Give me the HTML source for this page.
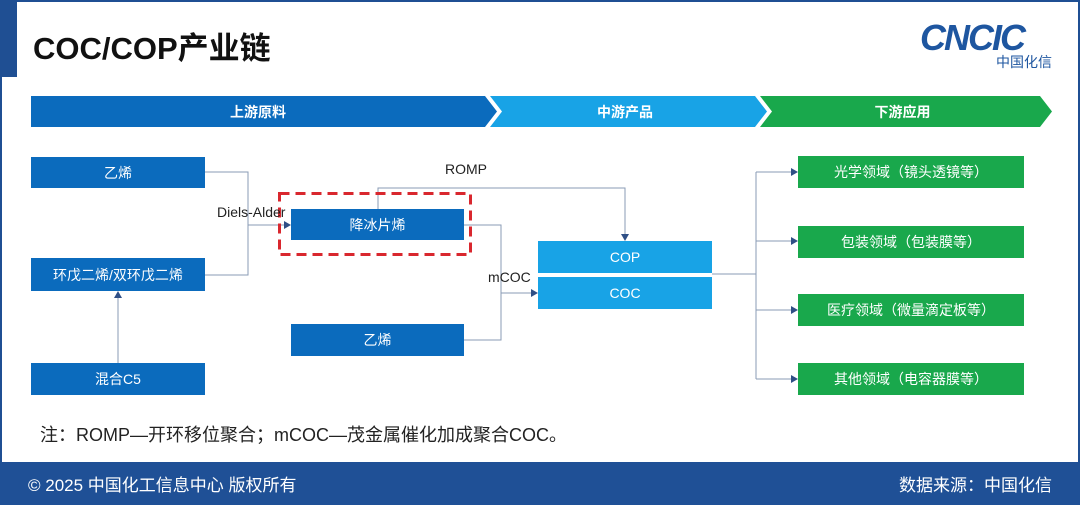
<!DOCTYPE html>
<html><head><meta charset="utf-8"><style>
body{margin:0;width:1080px;height:505px;overflow:hidden;background:#fff;font-family:"Liberation Sans","Noto Sans CJK SC",sans-serif;position:relative}
.a{position:absolute}
.b{position:absolute;color:#fff;font-size:14px;display:flex;align-items:center;justify-content:center}
.d{background:#0b6bbd}.l{background:#18a3e6}.g{background:#19a84c}
</style></head><body>
<div class="a" style="left:0;top:0;width:1080px;height:505px;box-sizing:border-box;border:2px solid #1f4f93;border-bottom:none"></div>
<div class="a" style="left:0;top:0;width:17px;height:77px;background:#1f4f93"></div>
<div class="a" style="left:33px;top:23px;font-size:31px;font-weight:bold;color:#111">COC/COP产业链</div>
<div class="a" style="left:920px;top:17px;font-size:36px;font-weight:bold;font-style:italic;color:#1e56a0;letter-spacing:-2px">CNCIC</div>
<div class="a" style="left:996px;top:52px;font-size:14px;color:#1e56a0">中国化信</div>
<svg class="a" style="left:0;top:0" width="1080" height="505">
<polygon points="31,96 485,96 497,111.5 485,127 31,127" fill="#0b6bbd"/>
<polygon points="490,96 755,96 767,111.5 755,127 490,127 502,111.5" fill="#18a3e6"/>
<polygon points="760,96 1040,96 1052,111.5 1040,127 760,127 772,111.5" fill="#19a84c"/>
<g stroke="#8a9bb5" stroke-width="1" fill="none">
<polyline points="205,172 248,172 248,275 205,275"/>
<line x1="248" y1="225" x2="288" y2="225"/>
<line x1="118" y1="363" x2="118" y2="295"/>
<polyline points="378,209 378,188 625,188 625,237"/>
<polyline points="464,225 501,225 501,340 464,340"/>
<line x1="501" y1="293" x2="534" y2="293"/>
<line x1="712" y1="274" x2="756" y2="274"/>
<line x1="756" y1="172" x2="756" y2="379"/>
<line x1="756" y1="172" x2="794" y2="172"/><line x1="756" y1="241" x2="794" y2="241"/>
<line x1="756" y1="310" x2="794" y2="310"/><line x1="756" y1="379" x2="794" y2="379"/>
</g>
<g fill="#2f4f86">
<polygon points="291,225 284,221 284,229"/>
<polygon points="118,291 114,298 122,298"/>
<polygon points="625,241 621,234 629,234"/>
<polygon points="538,293 531,289 531,297"/>
<polygon points="798,172 791,168 791,176"/><polygon points="798,241 791,237 791,245"/>
<polygon points="798,310 791,306 791,314"/><polygon points="798,379 791,375 791,383"/>
</g>
<rect x="279.5" y="193.5" width="191" height="61" fill="none" stroke="#d9272e" stroke-width="3" stroke-dasharray="10,6"/>
</svg>
<div class="b" style="left:31px;top:96px;width:454px;height:31px;font-weight:bold">上游原料</div>
<div class="b" style="left:495px;top:96px;width:260px;height:31px;font-weight:bold">中游产品</div>
<div class="b" style="left:765px;top:96px;width:275px;height:31px;font-weight:bold">下游应用</div>
<div class="b d" style="left:31px;top:157px;width:174px;height:31px">乙烯</div>
<div class="b d" style="left:31px;top:258px;width:174px;height:33px">环戊二烯/双环戊二烯</div>
<div class="b d" style="left:31px;top:363px;width:174px;height:32px">混合C5</div>
<div class="b d" style="left:291px;top:209px;width:173px;height:31px">降冰片烯</div>
<div class="b d" style="left:291px;top:324px;width:173px;height:32px">乙烯</div>
<div class="b l" style="left:538px;top:241px;width:174px;height:32px">COP</div>
<div class="b l" style="left:538px;top:277px;width:174px;height:32px">COC</div>
<div class="b g" style="left:798px;top:156px;width:226px;height:32px">光学领域（镜头透镜等）</div>
<div class="b g" style="left:798px;top:226px;width:226px;height:32px">包装领域（包装膜等）</div>
<div class="b g" style="left:798px;top:294px;width:226px;height:32px">医疗领域（微量滴定板等）</div>
<div class="b g" style="left:798px;top:363px;width:226px;height:32px">其他领域（电容器膜等）</div>
<div class="a" style="left:217px;top:204px;font-size:14px;color:#222">Diels-Alder</div>
<div class="a" style="left:445px;top:161px;font-size:14px;color:#222">ROMP</div>
<div class="a" style="left:488px;top:269px;font-size:14px;color:#222">mCOC</div>
<div class="a" style="left:40px;top:421px;font-size:18px;color:#222">注：ROMP—开环移位聚合；mCOC—茂金属催化加成聚合COC。</div>
<div class="a" style="left:0;top:462px;width:1080px;height:43px;background:#1f5096"></div>
<div class="a" style="left:28px;top:471px;font-size:17px;color:#fff">© 2025 中国化工信息中心 版权所有</div>
<div class="a" style="right:28px;top:471px;font-size:17px;color:#fff">数据来源：中国化信</div>
</body></html>
